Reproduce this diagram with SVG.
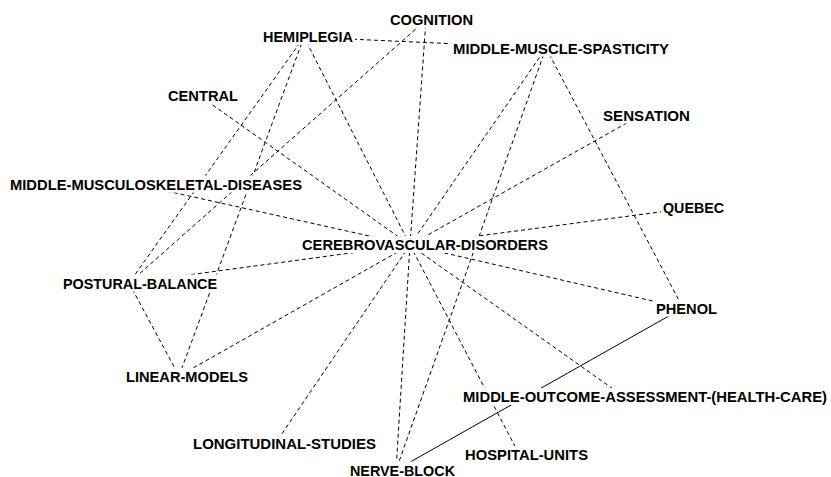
<svg xmlns="http://www.w3.org/2000/svg" width="831" height="477" viewBox="0 0 831 477">
  <style>
    .bg { fill: #ffffff; }
    .edge { stroke: #000; stroke-width: 1; fill: none; stroke-dasharray: 4 3; }
    .edge.solid { stroke-dasharray: none; }
    .lbl rect { fill: #ffffff; }
    .lbl text { font-family: "Liberation Sans", Arial, sans-serif; font-weight: bold; font-size: 14.6px; fill: #000; }
  </style>
  <rect class="bg" x="0" y="0" width="831" height="477"/>

  <!-- connectors: drawn first, labels are painted over them -->
  <g id="edges">
    <line class="edge" x1="410" y1="245" x2="304" y2="37"/>
    <line class="edge" x1="410" y1="245" x2="426" y2="20"/>
    <line class="edge" x1="410" y1="245" x2="546" y2="48"/>
    <line class="edge" x1="410" y1="245" x2="200" y2="96"/>
    <line class="edge" x1="410" y1="245" x2="641" y2="115"/>
    <line class="edge" x1="410" y1="245" x2="135" y2="184"/>
    <line class="edge" x1="410" y1="245" x2="690" y2="208"/>
    <line class="edge" x1="410" y1="245" x2="129" y2="283"/>
    <line class="edge" x1="410" y1="245" x2="683" y2="308"/>
    <line class="edge" x1="410" y1="245" x2="179" y2="376"/>
    <line class="edge" x1="410" y1="245" x2="623" y2="396"/>
    <line class="edge" x1="410" y1="245" x2="275" y2="444"/>
    <line class="edge" x1="410" y1="245" x2="396" y2="470"/>
    <line class="edge" x1="410" y1="245" x2="519" y2="454"/>
    <line class="edge" x1="304" y1="37" x2="546" y2="48"/>
    <line class="edge" x1="304" y1="37" x2="129" y2="283"/>
    <line class="edge" x1="304" y1="37" x2="179" y2="376"/>
    <line class="edge" x1="426" y1="20" x2="129" y2="283"/>
    <line class="edge" x1="546" y1="48" x2="683" y2="308"/>
    <line class="edge" x1="546" y1="48" x2="396" y2="470"/>
    <line class="edge" x1="129" y1="283" x2="179" y2="376"/>
    <line class="edge solid" x1="683" y1="308" x2="396" y2="470"/>
  </g>

  <!-- nodes: white label box + text -->
  <g id="n-cognition" class="lbl"><rect x="388" y="11" width="87" height="17"/><text x="390" y="25" textLength="83" lengthAdjust="spacingAndGlyphs">COGNITION</text></g>
  <g id="n-hemiplegia" class="lbl"><rect x="261" y="28" width="94" height="17"/><text x="263" y="42" textLength="90" lengthAdjust="spacingAndGlyphs">HEMIPLEGIA</text></g>
  <g id="n-middle-muscle-spasticity" class="lbl"><rect x="451" y="39.5" width="221" height="17"/><text x="453" y="53.5" textLength="216" lengthAdjust="spacingAndGlyphs">MIDDLE-MUSCLE-SPASTICITY</text></g>
  <g id="n-central" class="lbl"><rect x="166" y="87" width="74" height="17"/><text x="168" y="101" textLength="70" lengthAdjust="spacingAndGlyphs">CENTRAL</text></g>
  <g id="n-sensation" class="lbl"><rect x="601" y="106.5" width="91" height="17"/><text x="603" y="120.5" textLength="87" lengthAdjust="spacingAndGlyphs">SENSATION</text></g>
  <g id="n-middle-musculoskeletal-diseases" class="lbl"><rect x="8" y="175.5" width="296" height="17"/><text x="10" y="189.5" textLength="292" lengthAdjust="spacingAndGlyphs">MIDDLE-MUSCULOSKELETAL-DISEASES</text></g>
  <g id="n-quebec" class="lbl"><rect x="661" y="199" width="65" height="17"/><text x="663" y="213" textLength="61" lengthAdjust="spacingAndGlyphs">QUEBEC</text></g>
  <g id="n-cerebrovascular-disorders" class="lbl"><rect x="300" y="236" width="250" height="17"/><text x="302" y="250" textLength="246" lengthAdjust="spacingAndGlyphs">CEREBROVASCULAR-DISORDERS</text></g>
  <g id="n-postural-balance" class="lbl"><rect x="61" y="274.5" width="158" height="17"/><text x="63" y="288.5" textLength="154" lengthAdjust="spacingAndGlyphs">POSTURAL-BALANCE</text></g>
  <g id="n-phenol" class="lbl"><rect x="654" y="299.5" width="65" height="17"/><text x="656" y="313.5" textLength="61" lengthAdjust="spacingAndGlyphs">PHENOL</text></g>
  <g id="n-linear-models" class="lbl"><rect x="124" y="368" width="126" height="17"/><text x="126" y="382" textLength="122" lengthAdjust="spacingAndGlyphs">LINEAR-MODELS</text></g>
  <g id="n-middle-outcome-assessment" class="lbl"><rect x="461" y="388" width="369" height="17"/><text x="463" y="402" textLength="364" lengthAdjust="spacingAndGlyphs">MIDDLE-OUTCOME-ASSESSMENT-(HEALTH-CARE)</text></g>
  <g id="n-longitudinal-studies" class="lbl"><rect x="191" y="435" width="188" height="17"/><text x="193" y="449" textLength="183" lengthAdjust="spacingAndGlyphs">LONGITUDINAL-STUDIES</text></g>
  <g id="n-hospital-units" class="lbl"><rect x="463" y="446" width="127" height="17"/><text x="465" y="460" textLength="123" lengthAdjust="spacingAndGlyphs">HOSPITAL-UNITS</text></g>
  <g id="n-nerve-block" class="lbl"><rect x="348" y="461.5" width="109" height="15.5"/><text x="350" y="475.5" textLength="105" lengthAdjust="spacingAndGlyphs">NERVE-BLOCK</text></g>
</svg>
